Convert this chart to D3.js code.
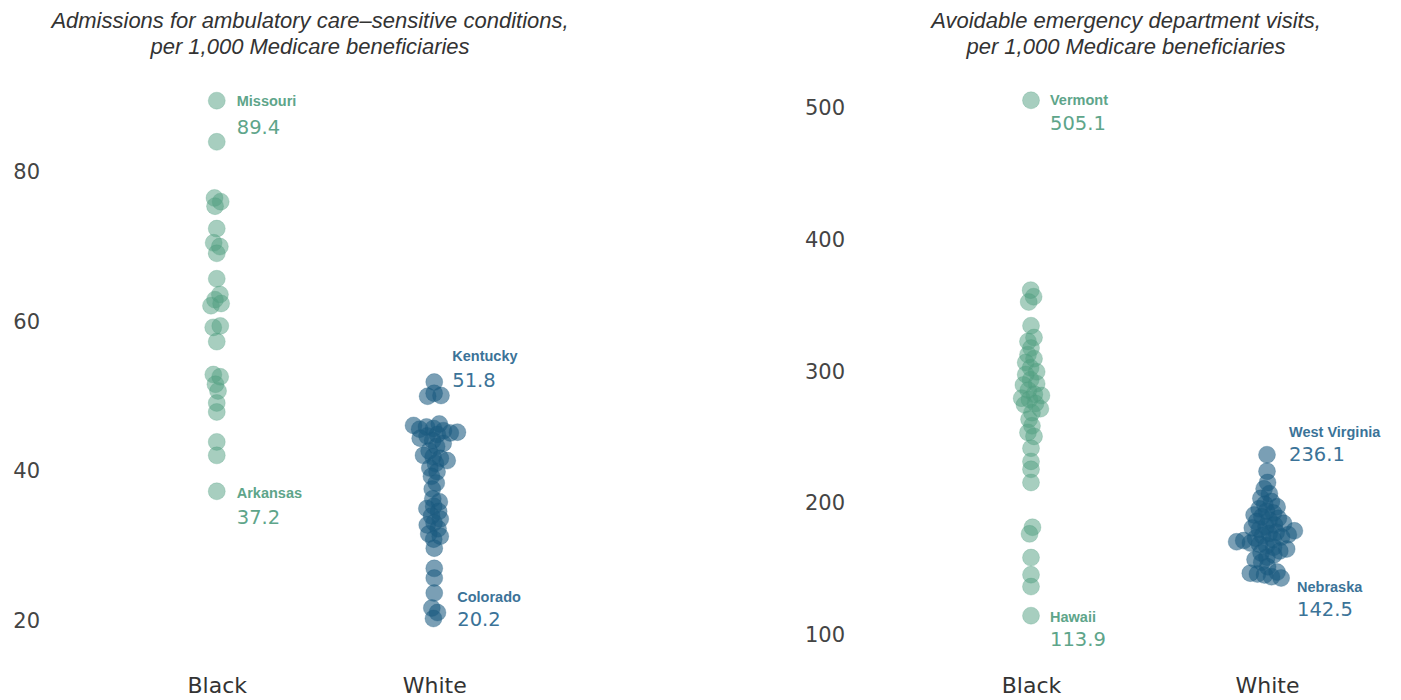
<!DOCTYPE html>
<html>
<head>
<meta charset="utf-8">
<script src="https://cdn.jsdelivr.net/npm/d3@7"></script>
<style>
  body { margin: 0; background: #fff; }
  svg { display: block; }
  .tick text { font-family: "DejaVu Sans", sans-serif; fill: #444; }
  .title { font-family: "Liberation Sans", Arial, sans-serif; font-style: italic; fill: #333; font-size: 22px; }
</style>
</head>
<body>
<svg id="chart" width="1401" height="700"></svg>
<script>
  var groups = ["Black", "White"];

  // admissions, per 1,000 beneficiaries
  var admBlack = [89.4, 83.9, 76.4, 75.9, 75.3, 72.3, 70.4, 69.9, 69.0, 65.6, 63.5, 62.8, 62.3, 62.0,
    59.3, 59.1, 57.2, 52.8, 52.5, 51.5, 50.6, 49.0, 47.8, 43.8, 42.0, 37.2];
  var admWhite = [51.8, 50.3, 50.0, 49.9, 46.2, 46.0, 45.8, 45.6, 45.5, 45.3, 45.1, 45.0, 44.8, 44.6,
    44.3, 44.0, 43.6, 43.2, 42.6, 42.0, 41.8, 41.6, 41.3, 40.9, 40.3, 39.8, 39.2, 38.3, 37.5, 36.2,
    35.8, 35.2, 34.9, 34.5, 33.9, 33.5, 33.0, 32.7, 32.2, 31.5, 31.2, 30.8, 29.6, 26.9, 25.6, 23.6,
    21.6, 21.0, 20.2];

  // avoidable ED visits, per 1,000 beneficiaries
  var edBlack = [505.1, 361, 356, 352, 334, 325, 322, 317, 312, 309, 306, 302, 299, 297, 293, 290,
    289, 285, 282, 281, 279, 278, 275, 274, 271, 268, 263, 258, 253, 250, 241, 231, 225, 215, 181,
    176, 158, 145, 136, 113.9];
  var edWhite = [236.1, 223.5, 215.0, 210.2, 206.5, 203.0, 200.5, 198.4, 196.5, 195.0, 193.2, 191.8,
    190.4, 189.0, 187.8, 186.5, 185.3, 184.0, 182.8, 181.6, 180.5, 179.4, 178.3, 177.2, 176.3, 175.4,
    174.5, 173.6, 172.7, 171.8, 170.9, 170.0, 169.0, 168.1, 167.0, 165.8, 164.5, 163.0, 161.5, 160.0,
    158.3, 156.5, 154.5, 151.0, 147.0, 146.2, 145.5, 144.8, 143.5, 142.5];

  var admTicks = [20, 40, 60, 80];
  var edTicks = [100, 200, 300, 400, 500];

  var admLabels = [
    {group: "Black", name: "Missouri", value: 89.4},
    {group: "Black", name: "Arkansas", value: 37.2},
    {group: "White", name: "Kentucky", value: 51.8},
    {group: "White", name: "Colorado", value: 20.2}
  ];
  var edLabels = [
    {group: "Black", name: "Vermont", value: 505.1},
    {group: "Black", name: "Hawaii", value: 113.9},
    {group: "White", name: "West Virginia", value: 236.1},
    {group: "White", name: "Nebraska", value: 142.5}
  ];

  var colors = {Black: "#4f9e80", White: "#1a5a80"};
  var textColors = {Black: "#5ea58a", White: "#3b7398"};
  // label offsets from the dot: name line, value line
  var labelPos = {
    Missouri: [20, 0, 26], Arkansas: [20, 2, 26], Kentucky: [18, -26, -2], Colorado: [23, -22, 0],
    Vermont: [19, 0, 23], Hawaii: [19, 1, 23], "West Virginia": [22, -23, -1], Nebraska: [30, 9, 31]
  };

  var svg = d3.select("#chart");

  function drawPanel(opt) {
    var x = d3.scalePoint().domain(groups).range(opt.xRange).padding(0.5);
    var y = d3.scaleLinear().domain(opt.domain).range(opt.yRange);
    var g = svg.append("g");

    // title
    g.append("text").attr("class", "title")
      .attr("x", opt.titleX).attr("y", 28).attr("text-anchor", "middle").text(opt.title[0]);
    g.append("text").attr("class", "title")
      .attr("x", opt.titleX).attr("y", 54).attr("text-anchor", "middle").text(opt.title[1]);

    // y axis
    var ya = g.append("g")
      .attr("transform", "translate(" + opt.axisX + ",0)")
      .call(d3.axisLeft(y).tickValues(opt.ticks).tickSize(0).tickPadding(0));
    ya.select(".domain").remove();
    ya.selectAll("text").style("font-size", "21px").attr("dy", "0.36em");

    // x axis
    var xa = g.append("g")
      .attr("transform", "translate(0,674)")
      .call(d3.axisBottom(x).tickSize(0).tickPadding(3));
    xa.select(".domain").remove();
    xa.selectAll("text").style("font-size", "22px").style("fill", "#333");

    // dots, beeswarm-ish
    var r = 8.5;
    groups.forEach(function(grp, i) {
      var vals = opt.series[i];
      var nodes = vals.map(function(v) { return {value: v, x: x(grp), fy: y(v)}; });
      var sim = d3.forceSimulation(nodes)
        .force("x", d3.forceX(x(grp)).strength(0.1))
        .force("collide", d3.forceCollide(3.6))
        .stop();
      for (var k = 0; k < 250; k++) sim.tick();

      g.append("g").selectAll("circle")
        .data(nodes)
        .join("circle")
        .attr("cx", function(d) { return d.x; })
        .attr("cy", function(d) { return d.fy; })
        .attr("r", r)
        .attr("fill", colors[grp])
        .attr("fill-opacity", grp === "Black" ? 0.5 : 0.58)
        .attr("stroke", colors[grp])
        .attr("stroke-opacity", 0.25)
        .attr("stroke-width", 1);
    });

    // labels
    opt.labels.forEach(function(l) {
      var p = labelPos[l.name];
      var lx = x(l.group) + p[0], ly = y(l.value);
      g.append("text")
        .attr("x", lx).attr("y", ly + p[1]).attr("dy", "0.35em")
        .style("font-family", "'Liberation Sans', Arial, sans-serif")
        .style("font-weight", "bold").style("font-size", "14.5px")
        .attr("fill", textColors[l.group])
        .text(l.name);
      g.append("text")
        .attr("x", lx).attr("y", ly + p[2]).attr("dy", "0.36em")
        .style("font-family", "'DejaVu Sans', sans-serif")
        .style("font-size", "19.5px")
        .attr("fill", textColors[l.group])
        .text(l.value.toFixed(1));
    });
  }

  drawPanel({
    xRange: [108, 543], domain: [20, 80], yRange: [620, 171], ticks: admTicks, axisX: 40,
    series: [admBlack, admWhite], labels: admLabels, titleX: 310,
    title: ["Admissions for ambulatory care\u2013sensitive conditions,", "per 1,000 Medicare beneficiaries"]
  });
  drawPanel({
    xRange: [913, 1385], domain: [100, 500], yRange: [634, 107], ticks: edTicks, axisX: 845,
    series: [edBlack, edWhite], labels: edLabels, titleX: 1126,
    title: ["Avoidable emergency department visits,", "per 1,000 Medicare beneficiaries"]
  });
</script>
</body>
</html>
